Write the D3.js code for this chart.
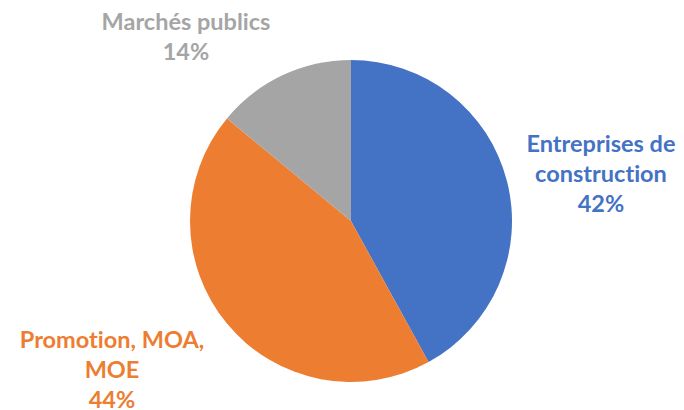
<!DOCTYPE html>
<html><head><meta charset="utf-8">
<script src="https://cdn.jsdelivr.net/npm/d3@7"></script>
<style>body{margin:0;background:#fff} text{font-variant-ligatures:none;font-feature-settings:"liga" 0}</style>
</head><body>
<svg id="c" width="684" height="410"></svg>
<script>
const categories = ["Entreprises de construction", "Promotion, MOA, MOE", "Marchés publics"];
const values = [42, 44, 14];
const labelLines = [["Entreprises de", "construction", "42%"], ["Promotion, MOA,", "MOE", "44%"], ["Marchés publics", "14%"]];
const colors = ["#4472C4", "#ED7D31", "#A5A5A5"];

const layout = {cx: 351, cy: 221, r: 161,
  labels: [{x: 601, y: 152}, {x: 112, y: 348}, {x: 186, y: 30}], lh: 30, fs: 23.5};

const svg = d3.select("#c");
const g = svg.append("g").attr("transform", `translate(${layout.cx},${layout.cy})`);
const pie = d3.pie().sort(null).value(d => d)(values);
const arc = d3.arc().innerRadius(0).outerRadius(layout.r);
g.selectAll("path").data(pie).join("path")
  .attr("d", arc).attr("fill", (d, i) => colors[i]);

labelLines.forEach((lines, i) => {
  const t = svg.append("text").attr("text-anchor", "middle")
    .attr("font-family", "Lato, 'Open Sans', sans-serif").attr("font-weight", "bold")
    .attr("font-size", layout.fs).attr("fill", colors[i]);
  lines.forEach((s, j) => {
    t.append("tspan").attr("x", layout.labels[i].x)
      .attr("y", layout.labels[i].y + j * layout.lh).text(s);
  });
});
</script>
</body></html>
